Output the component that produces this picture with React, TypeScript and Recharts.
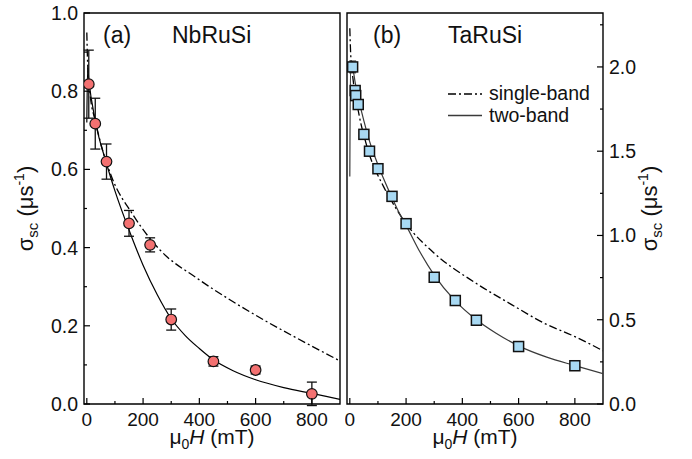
import React from "react";
import { ComposedChart, Line, Scatter, ErrorBar, XAxis, YAxis, ReferenceArea, Legend } from "recharts";

const FONT = "'Liberation Sans', Arial, Helvetica, sans-serif";

// (a) NbRuSi — measured points
const nbField = [7, 30, 70, 150, 225, 300, 450, 600, 800];
const nbSigma = [0.818, 0.717, 0.62, 0.462, 0.407, 0.216, 0.109, 0.087, 0.026];
const nbErr = [0.087, 0.065, 0.045, 0.033, 0.018, 0.027, 0.012, 0.01, 0.03];

// (a) fits
const nbSingleH = [0, 3, 12, 30, 50, 86, 164, 260, 391, 510, 629, 748, 900];
const nbSingleS = [0.95, 0.87, 0.79, 0.725, 0.665, 0.585, 0.484, 0.394, 0.322, 0.266, 0.215, 0.168, 0.11];
const nbTwoH = [0, 3, 7, 30, 70, 100, 150, 200, 250, 300, 350, 400, 450, 520, 600, 700, 800, 900];
const nbTwoS = [0.72, 0.86, 0.83, 0.725, 0.615, 0.545, 0.445, 0.355, 0.28, 0.218, 0.175, 0.142, 0.113, 0.085, 0.062, 0.042, 0.027, 0.012];

// (b) TaRuSi — measured points
const taField = [10, 19, 21, 30, 50, 70, 100, 150, 200, 300, 375, 450, 600, 800];
const taSigma = [2.0, 1.86, 1.83, 1.777, 1.6, 1.5, 1.396, 1.232, 1.07, 0.752, 0.614, 0.497, 0.341, 0.227];
const taErr = [0.035, 0.025, 0.025, 0.02, 0.02, 0.02, 0.02, 0.02, 0.02, 0.02, 0.02, 0.02, 0.02, 0.02];
const taFieldErr = [12, 12, 12, 12, 12, 12, 12, 12, 12, 12, 12, 12, 12, 12];

// (b) fits
const taSingleH = [0, 3, 12, 30, 65, 120, 150, 200, 300, 450, 575, 690, 800, 900];
const taSingleS = [2.23, 2.08, 1.92, 1.74, 1.505, 1.29, 1.2, 1.07, 0.895, 0.715, 0.59, 0.48, 0.4, 0.316];
const taTwoH = [0, 2.5, 8, 20, 30, 50, 70, 100, 142, 180, 200, 250, 300, 373, 450, 520, 600, 700, 800, 900];
const taTwoS = [1.35, 2.0, 2.0, 1.9, 1.82, 1.68, 1.56, 1.42, 1.254, 1.12, 1.06, 0.9, 0.765, 0.615, 0.5, 0.42, 0.345, 0.278, 0.228, 0.18];

const curveNames = ["single-band", "two-band"];
const xTicks = [0, 100, 200, 300, 400, 500, 600, 700, 800];
const yTicksA = [0, 0.1, 0.2, 0.3, 0.4, 0.5, 0.6, 0.7, 0.8, 0.9, 1.0];
const yTicksB = [0, 0.25, 0.5, 0.75, 1.0, 1.25, 1.5, 1.75, 2.0, 2.25];

const pts = (xs: number[], ys: number[]) => xs.map((x, i) => ({ x, y: ys[i] }));

const nbPoints = nbField.map((x, i) => ({ x, y: nbSigma[i], ey: nbErr[i] }));
const taPoints = taField.map((x, i) => ({ x, y: taSigma[i], ey: taErr[i], ex: taFieldErr[i] }));

const XTick = ({ x, y, payload }: any) => {
  const v = payload.value;
  const major = v % 200 === 0;
  return (
    <g>
      <line x1={x} x2={x} y1={y} y2={y - (major ? 6 : 3)} stroke="#000" strokeWidth={1.2} />
      {major && (
        <text x={x} y={y + 22} textAnchor="middle" fontSize={19} fontFamily={FONT} fill="#111">
          {v}
        </text>
      )}
    </g>
  );
};

const LeftYTick = ({ x, y, payload }: any) => {
  const v = payload.value;
  const major = Math.round(v * 10) % 2 === 0;
  return (
    <g>
      <line x1={x} x2={x + (major ? 6 : 3)} y1={y} y2={y} stroke="#000" strokeWidth={1.2} />
      {major && (
        <text x={x - 6} y={y + 7} textAnchor="end" fontSize={19.5} fontFamily={FONT} fill="#111">
          {v.toFixed(1)}
        </text>
      )}
    </g>
  );
};

const RightYTick = ({ x, y, payload }: any) => {
  const v = payload.value;
  const major = Number.isInteger(v * 2);
  return (
    <g>
      <line x1={x} x2={x - (major ? 6 : 3)} y1={y} y2={y} stroke="#000" strokeWidth={1.2} />
      {major && (
        <text x={x + 6} y={y + 7} textAnchor="start" fontSize={19.5} fontFamily={FONT} fill="#111">
          {v.toFixed(1)}
        </text>
      )}
    </g>
  );
};

const XTitle = (props: any) => {
  const vb = props.viewBox;
  return (
    <text x={vb.x + vb.width / 2} y={vb.y + 40} textAnchor="middle" fontSize={21} fontFamily={FONT} fill="#111">
      μ<tspan fontSize={14} dy={5}>0</tspan>
      <tspan dy={-5} fontStyle="italic">H</tspan> (mT)
    </text>
  );
};

const YTitle = ({ cx, cy }: { cx: number; cy: number }) => (
  <text
    x={cx}
    y={cy}
    transform={`rotate(-90 ${cx} ${cy})`}
    textAnchor="middle"
    fontSize={22}
    fontFamily={FONT}
    fill="#111"
  >
    σ<tspan fontSize={15} dy={5}>sc</tspan>
    <tspan dy={-5}> (μs</tspan>
    <tspan fontSize={14} dy={-9}>-1</tspan>
    <tspan dy={9}>)</tspan>
  </text>
);

const panelLabel = (tag: string, name: string, tagDx: number, nameDx: number) => (props: any) => {
  const vb = props.viewBox;
  return (
    <g fontFamily={FONT} fontSize={23} fill="#111">
      <text x={vb.x + tagDx} y={vb.y + 30}>{tag}</text>
      <text x={vb.x + nameDx} y={vb.y + 30}>{name}</text>
    </g>
  );
};

const FitLegend = (props: any) => {
  const items = (props.payload || []).filter((p: any) => curveNames.includes(p.value));
  return (
    <svg width={160} height={46} style={{ display: "block", overflow: "visible" }}>
      {items.map((p: any, i: number) => (
        <g key={p.value}>
          <line
            x1={0}
            x2={34}
            y1={10 + i * 21.5}
            y2={10 + i * 21.5}
            stroke={p.color}
            strokeWidth={1.3}
            strokeDasharray={p.payload?.strokeDasharray}
          />
          <text x={41} y={16 + i * 22} fontSize={19.5} fontFamily={FONT} fill="#111">
            {p.value}
          </text>
        </g>
      ))}
    </svg>
  );
};

const Circle = (p: any) => (
  <circle cx={p.cx} cy={p.cy} r={5.3} fill="#f37171" stroke="#111" strokeWidth={1.2} />
);
const Square = (p: any) => (
  <rect x={p.cx - 5} y={p.cy - 5} width={10} height={10} fill="#a8d9f3" stroke="#111" strokeWidth={1.5} />
);
const NoShape = () => <g />;

export default function App() {
  return (
    <div style={{ position: "absolute", left: 0, top: 0, width: 692, height: 459, background: "#fff" }}>
      <div style={{ position: "absolute", left: 0, top: 0 }}>
        <ComposedChart width={345} height={459} margin={{ top: 13, right: 5, bottom: 0, left: 0 }}>
          <XAxis
            type="number"
            dataKey="x"
            domain={[-10, 900]}
            ticks={xTicks}
            interval={0}
            allowDataOverflow
            axisLine={false}
            tickLine={false}
            tickSize={0}
            tickMargin={0}
            height={55}
            tick={<XTick />}
            label={{ content: XTitle }}
          />
          <YAxis
            type="number"
            dataKey="y"
            domain={[0, 1]}
            ticks={yTicksA}
            interval={0}
            allowDataOverflow
            axisLine={false}
            tickLine={false}
            tickSize={0}
            tickMargin={0}
            width={84}
            tick={<LeftYTick />}
            label={{ content: (p: any) => <YTitle cx={p.viewBox.x + 33} cy={p.viewBox.y + p.viewBox.height / 2} /> }}
          />
          <Line
            data={pts(nbSingleH, nbSingleS)}
            dataKey="y"
            name={curveNames[0]}
            type="monotone"
            stroke="#000"
            strokeWidth={1.3}
            strokeDasharray="8 3 2 3"
            dot={false}
            activeDot={false}
            isAnimationActive={false}
          />
          <Line
            data={pts(nbTwoH, nbTwoS)}
            dataKey="y"
            name={curveNames[1]}
            type="monotone"
            stroke="#000"
            strokeWidth={1.2}
            dot={false}
            activeDot={false}
            isAnimationActive={false}
          />
          <Scatter data={nbPoints} dataKey="y" shape={<Circle />} legendType="none" isAnimationActive={false}>
            <ErrorBar dataKey="ey" direction="y" width={5} stroke="#111" strokeWidth={1.3} />
          </Scatter>
          <ReferenceArea
            x1={-10}
            x2={900}
            y1={0}
            y2={1}
            fill="none"
            stroke="#000"
            strokeWidth={1.4}
            ifOverflow="visible"
            label={{ content: panelLabel("(a)", "NbRuSi", 19, 88) }}
          />
        </ComposedChart>
      </div>
      <div style={{ position: "absolute", left: 345, top: 0 }}>
        <ComposedChart width={347} height={459} margin={{ top: 13, right: 0, bottom: 0, left: 2 }}>
          <XAxis
            type="number"
            dataKey="x"
            domain={[-10, 900]}
            ticks={xTicks}
            interval={0}
            allowDataOverflow
            axisLine={false}
            tickLine={false}
            tickSize={0}
            tickMargin={0}
            height={55}
            tick={<XTick />}
            label={{ content: XTitle }}
          />
          <YAxis
            type="number"
            dataKey="y"
            orientation="right"
            domain={[0, 2.32]}
            ticks={yTicksB}
            interval={0}
            allowDataOverflow
            axisLine={false}
            tickLine={false}
            tickSize={0}
            tickMargin={0}
            width={89}
            tick={<RightYTick />}
            label={{ content: (p: any) => <YTitle cx={p.viewBox.x + 54} cy={p.viewBox.y + p.viewBox.height / 2} /> }}
          />
          <Line
            data={pts(taSingleH, taSingleS)}
            dataKey="y"
            name={curveNames[0]}
            type="monotone"
            stroke="#000"
            strokeWidth={1.3}
            strokeDasharray="8 3 2 3"
            dot={false}
            activeDot={false}
            isAnimationActive={false}
          />
          <Line
            data={pts(taTwoH, taTwoS)}
            dataKey="y"
            name={curveNames[1]}
            type="monotone"
            stroke="#3a3a3a"
            strokeWidth={1.2}
            dot={false}
            activeDot={false}
            isAnimationActive={false}
          />
          <Scatter data={taPoints} dataKey="y" shape={<Square />} legendType="none" isAnimationActive={false} />
          <Scatter data={taPoints} dataKey="y" shape={<NoShape />} legendType="none" isAnimationActive={false}>
            <ErrorBar dataKey="ey" direction="y" width={3.5} stroke="#111" strokeWidth={1} />
            <ErrorBar dataKey="ex" direction="x" width={3.5} stroke="#111" strokeWidth={1} />
          </Scatter>
          <ReferenceArea
            x1={-10}
            x2={900}
            y1={0}
            y2={2.32}
            fill="none"
            stroke="#000"
            strokeWidth={1.4}
            ifOverflow="visible"
            label={{ content: panelLabel("(b)", "TaRuSi", 26, 101) }}
          />
          <Legend
            layout="vertical"
            align="center"
            verticalAlign="middle"
            content={<FitLegend />}
            wrapperStyle={{ left: 103, top: 84, width: 160, height: 46 }}
          />
        </ComposedChart>
      </div>
    </div>
  );
}
